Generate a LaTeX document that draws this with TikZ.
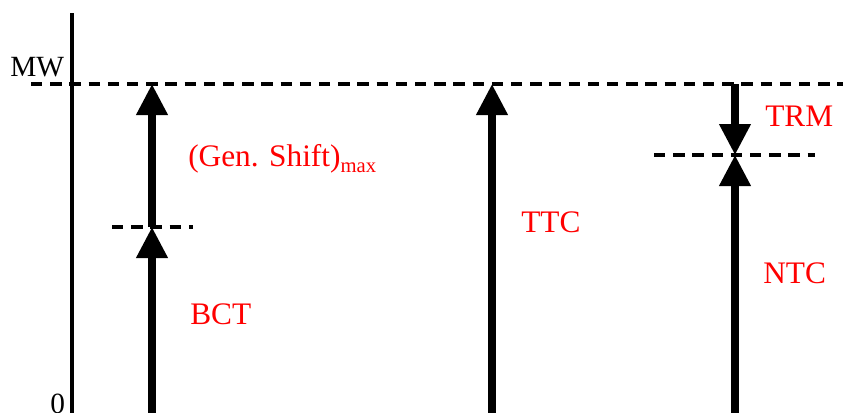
\documentclass[tikz,border=0pt]{standalone}
\usepackage{fontspec}
\setmainfont{Liberation Serif}
\usetikzlibrary{arrows.meta}
\tikzset{
  axisline/.style={line width=3pt},
  bigarrow/.style={line width=5.3pt,-{Triangle[width=22.5pt,length=23.25pt]}},
  dashline/.style={line width=2.4pt,dash pattern=on 8.6pt off 5.8pt},
  redlabel/.style={anchor=base west,inner sep=0pt,text=red,font=\fontsize{23.5pt}{26pt}\selectfont},
  blacklabel/.style={anchor=base west,inner sep=0pt,font=\fontsize{22pt}{24pt}\selectfont}
}
\begin{document}
\begin{tikzpicture}[x=0.75pt,y=-0.75pt]
\useasboundingbox (0,0) rectangle (843,412);
% coordinates
\coordinate (axtop) at (72,13);
\coordinate (axbot) at (72,413);
\coordinate (mwL) at (31,84);
\coordinate (mwR) at (843,84);
\coordinate (aBot) at (152,413);
\coordinate (aMid) at (152,227);
\coordinate (aTop) at (152,84);
\coordinate (bL) at (112,227);
\coordinate (bR) at (193,227);
\coordinate (tBot) at (492,413);
\coordinate (tTop) at (492,84);
\coordinate (nBot) at (735,413);
\coordinate (nMid) at (735,155);
\coordinate (nTop) at (735,84);
\coordinate (nL) at (654,155);
\coordinate (nR) at (815,155);
% axis
\draw[axisline] (axbot) -- (axtop);
% dashed lines
\draw[dashline] (mwL) -- (mwR);
\draw[dashline] (bL) -- (bR);
\draw[dashline] (nL) -- (nR);
% arrows
\draw[bigarrow] (aBot) -- (aMid);
\draw[bigarrow] (aMid) -- (aTop);
\draw[bigarrow] (tBot) -- (tTop);
\draw[bigarrow] (nBot) -- (nMid);
\draw[bigarrow] (nTop) -- (nMid);
% labels
\node[blacklabel] (mw) at (10,76) {MW};
\node[blacklabel] (zero) at (50,413) {0};
\node[redlabel] (gen) at (188,166) {(Gen. Shift)\raisebox{-4.5pt}{\fontsize{15.5pt}{17pt}\selectfont max}};
\node[redlabel] (bct) at (190,324) {BCT};
\node[redlabel] (ttc) at (521,232) {TTC};
\node[redlabel] (ntc) at (763,283) {NTC};
\node[redlabel] (trm) at (765,126) {TRM};
\end{tikzpicture}
\end{document}
